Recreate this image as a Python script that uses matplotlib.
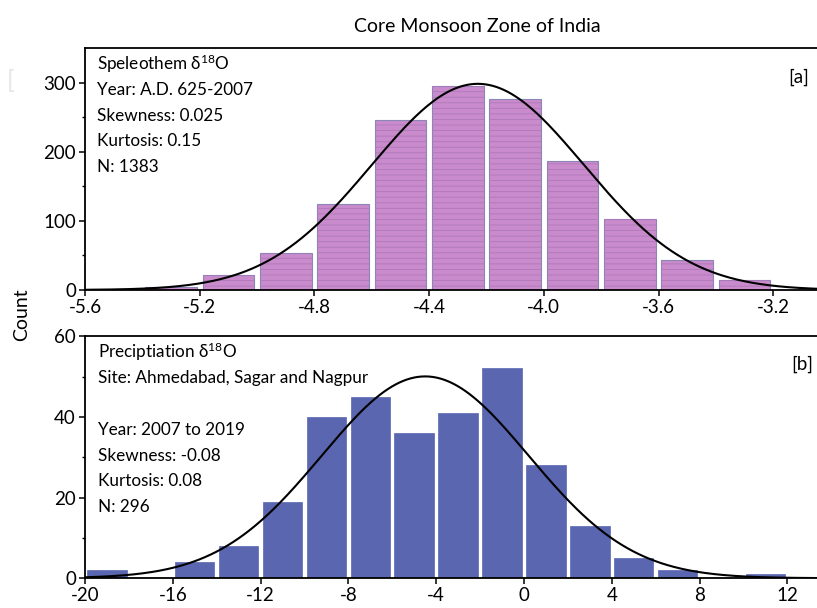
import numpy as np
import matplotlib
matplotlib.use("Agg")
import matplotlib.pyplot as plt

plt.rcParams['font.family'] = ['Lato', 'DejaVu Sans']
plt.rcParams['hatch.linewidth'] = 0.6
plt.rcParams['axes.unicode_minus'] = False

# speleothem d18O histogram (bin width 0.2)
spel_left = [-5.6, -5.4, -5.2, -5.0, -4.8, -4.6, -4.4, -4.2, -4.0, -3.8, -3.6, -3.4]
spel_count = [2, 4, 22, 54, 125, 246, 295, 277, 186, 102, 43, 15]
spel_mean, spel_sd, spel_n = -4.23, 0.37, 1383

# precipitation d18O histogram (bin width 2)
prec_left = [-20, -18, -16, -14, -12, -10, -8, -6, -4, -2, 0, 2, 4, 6, 8, 10]
prec_count = [2, 0, 4, 8, 19, 40, 45, 36, 41, 52, 28, 13, 5, 2, 0, 1]
prec_mean, prec_sd, prec_n = -4.5, 4.72, 296

spel_text = ["Speleothem $\\mathregular{\\delta^{18}}$O", "Year: A.D. 625-2007",
             "Skewness: 0.025", "Kurtosis: 0.15", "N: 1383"]
prec_text = ["Preciptiation $\\mathregular{\\delta^{18}}$O", "Site: Ahmedabad, Sagar and Nagpur", "",
             "Year: 2007 to 2019", "Skewness: -0.08", "Kurtosis: 0.08", "N: 296"]


def gauss(x, mu, sd, n, w):
    return n * w / (sd * np.sqrt(2 * np.pi)) * np.exp(-(x - mu) ** 2 / (2 * sd ** 2))


def style_axis(ax):
    for s in ['left', 'bottom', 'top']:
        ax.spines[s].set_linewidth(1.3)
    ax.spines['right'].set_visible(False)
    ax.tick_params(axis='both', which='major', direction='out', length=4, width=1.1,
                   labelsize=13.5, pad=2.5)
    ax.tick_params(axis='y', which='minor', direction='out', length=2.5, width=1)
    ax.tick_params(axis='x', which='minor', length=0)


fig = plt.figure(figsize=(8.17, 6.08), dpi=100)
ax1 = fig.add_axes([0.104, 0.523, 0.9, 0.398])
ax2 = fig.add_axes([0.104, 0.049, 0.9, 0.398])

# top panel
w1 = 0.2
c1 = np.array(spel_left) + w1 / 2
ax1.bar(c1, spel_count, width=w1 * 0.9, color='#C98BCB', edgecolor='#8A86B8', linewidth=0.8, zorder=2)
ax1.bar(c1, spel_count, width=w1 * 0.9, facecolor='none', edgecolor='#AE78BA', hatch='---',
        linewidth=0, zorder=2)
xs = np.linspace(-5.6, -3.0, 400)
ax1.plot(xs, gauss(xs, spel_mean, spel_sd, spel_n, w1), color='black', lw=1.5, zorder=3)
ax1.set_xlim(-5.6, -3.036)
ax1.set_ylim(0, 350)
ax1.set_xticks([-5.6, -5.2, -4.8, -4.4, -4.0, -3.6, -3.2])
ax1.set_xticklabels(['-5.6', '-5.2', '-4.8', '-4.4', '-4.0', '-3.6', '-3.2'])
ax1.set_yticks([0, 100, 200, 300])
ax1.set_yticks([50, 150, 250], minor=True)
style_axis(ax1)
for i, t in enumerate(spel_text):
    ax1.text(0.016, 0.935 - i * 0.107, t, transform=ax1.transAxes, fontsize=12.3, va='center')
ax1.text(0.985, 0.88, "[a]", transform=ax1.transAxes, fontsize=13.5, ha='right', va='center')

# bottom panel
w2 = 2
c2 = np.array(prec_left) + w2 / 2
ax2.bar(c2, prec_count, width=w2 * 0.9, color='#5A66B0', edgecolor='#5A66B0', linewidth=0.5, zorder=2)
xs = np.linspace(-20, 14, 400)
ax2.plot(xs, gauss(xs, prec_mean, prec_sd, prec_n, w2), color='black', lw=1.5, zorder=3)
ax2.set_xlim(-20, 13.5)
ax2.set_ylim(0, 60)
ax2.set_xticks([-20, -16, -12, -8, -4, 0, 4, 8, 12])
ax2.set_yticks([0, 20, 40, 60])
ax2.set_yticks([10, 30, 50], minor=True)
style_axis(ax2)
for i, t in enumerate(prec_text):
    ax2.text(0.018, 0.935 - i * 0.107, t, transform=ax2.transAxes, fontsize=12.3, va='center')
ax2.text(0.99, 0.885, "[b]", transform=ax2.transAxes, fontsize=13.5, ha='right', va='center')

fig.text(0.584, 0.957, "Core Monsoon Zone of India", fontsize=14, ha='center', va='center')
fig.text(0.027, 0.482, "Count", fontsize=14, rotation=90, ha='center', va='center')
fig.text(0.013, 0.868, "[", fontsize=18, color='#E6E6E6', ha='center', va='center')

fig.savefig("out.png", dpi=100)
